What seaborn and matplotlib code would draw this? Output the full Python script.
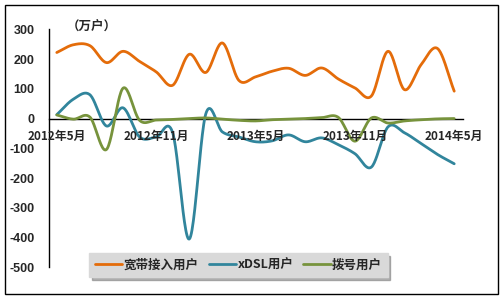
import numpy as np
import pandas as pd
import matplotlib
matplotlib.use("Agg")
import matplotlib.pyplot as plt
import seaborn as sns
from matplotlib.patches import Rectangle
from matplotlib.lines import Line2D

# ---- data (万户, monthly 2012-05 .. 2014-05) ----
months = ["2012-05", "2012-06", "2012-07", "2012-08", "2012-09", "2012-10", "2012-11",
          "2012-12", "2013-01", "2013-02", "2013-03", "2013-04", "2013-05", "2013-06",
          "2013-07", "2013-08", "2013-09", "2013-10", "2013-11", "2013-12", "2014-01",
          "2014-02", "2014-03", "2014-04", "2014-05"]
broadband = [222, 248, 245, 188, 226, 192, 157, 112, 216, 155, 254, 128, 140,
             159, 169, 145, 170, 133, 103, 76, 226, 97, 181, 235, 92]
xdsl = [13, 65, 80, -25, 36, -62, -62, -48, -405, 16, -45, -62, -78,
        -75, -55, -78, -65, -88, -118, -163, -28, -48, -84, -121, -152]
dialup = [12, -2, 5, -104, 102, -6, -5, -3, 0, 2, -2, -6, -8,
          -4, -2, 0, 3, 4, -76, 2, -15, -8, -4, -1, 0]
series_names = ["宽带接入用户", "xDSL用户", "拨号用户"]
colors = ["#E46C0A", "#31859C", "#77933C"]
tick_idx = [0, 6, 12, 18, 24]
tick_labels = ["2012年5月", "2012年11月", "2013年5月", "2013年11月", "2014年5月"]
yticks = [300, 200, 100, 0, -100, -200, -300, -400, -500]


def smooth(vals, n=24):
    """Catmull-Rom style smoothing (like Excel's smoothed line)."""
    y = np.asarray(vals, float)
    m = np.empty_like(y)
    m[1:-1] = (y[2:] - y[:-2]) / 2.0
    m[0] = y[1] - y[0]
    m[-1] = y[-1] - y[-2]
    xs, ys = [], []
    t = np.linspace(0, 1, n, endpoint=False)
    h00 = 2 * t**3 - 3 * t**2 + 1
    h10 = t**3 - 2 * t**2 + t
    h01 = -2 * t**3 + 3 * t**2
    h11 = t**3 - t**2
    for i in range(len(y) - 1):
        xs.append(i + t)
        ys.append(h00 * y[i] + h10 * m[i] + h01 * y[i + 1] + h11 * m[i + 1])
    xs.append(np.array([len(y) - 1.0]))
    ys.append(np.array([y[-1]]))
    return np.concatenate(xs), np.concatenate(ys)


frames = []
for name, vals in zip(series_names, [broadband, xdsl, dialup]):
    sx, sy = smooth(vals)
    frames.append(pd.DataFrame({"x": sx, "y": sy, "series": name}))
df = pd.concat(frames, ignore_index=True)

sns.set_style("white")
plt.rcParams["font.family"] = ["Noto Sans CJK SC", "DejaVu Sans"]
plt.rcParams["axes.unicode_minus"] = False

W, H = 503, 302
fig = plt.figure(figsize=(W / 100, H / 100), dpi=100)
ax = fig.add_axes([48.5 / W, 1 - 267.3 / H, 414 / W, (267.3 - 29.3) / H])

sns.lineplot(data=df, x="x", y="y", hue="series", palette=dict(zip(series_names, colors)),
             hue_order=series_names, sort=False, estimator=None, linewidth=2.0,
             ax=ax, legend=False)

ax.set_xlim(-0.5, 24.5)
ax.set_ylim(-500, 300)
ax.set_xlabel("")
ax.set_ylabel("")
ax.set_axisbelow(False)

for s in ["top", "right"]:
    ax.spines[s].set_visible(False)
ax.spines["bottom"].set_position(("data", 0))
ax.spines["bottom"].set_color("black")
ax.spines["left"].set_color("black")
ax.spines["bottom"].set_linewidth(1.0)
ax.spines["left"].set_linewidth(1.0)
ax.spines["bottom"].set_zorder(1)

ax.set_xticks(tick_idx)
ax.set_xticklabels(tick_labels, fontsize=8.5, fontweight="bold")
ax.set_xticks([5.5, 11.5, 17.5, 23.5], minor=True)
ax.tick_params(axis="x", which="major", length=0, pad=8)
ax.tick_params(axis="x", which="minor", length=3.5, direction="in", color="black", width=1)

ax.set_yticks(yticks)
ax.set_yticklabels([str(v) for v in yticks], fontsize=9, fontweight="bold",
                   family=["Liberation Sans", "DejaVu Sans"])
ax.tick_params(axis="y", length=3, direction="in", color="black", width=1, pad=10)
ax.grid(False)

fig.text(67 / W, 1 - 27 / H, "（万户）", fontsize=9, fontweight="bold", ha="left", va="center")

handles = [Line2D([], [], color=c, lw=2) for c in colors]
leg = ax.legend(handles, series_names, loc="center", bbox_to_anchor=(238.5 / W, 1 - 265 / H),
                bbox_transform=fig.transFigure, ncol=3, frameon=True, fancybox=False,
                shadow={"color": "#7f7f7f", "alpha": 0.6}, facecolor="#d9d9d9", edgecolor="#d9d9d9",
                framealpha=1, prop={"size": 9, "weight": "bold"}, handlelength=2.2,
                handletextpad=0.1, columnspacing=0.8, borderpad=0.45, borderaxespad=0)
leg.set_zorder(5)

fig.patches.append(Rectangle((5 / W, 1 - 294 / H), 493 / W, 289 / H, transform=fig.transFigure,
                             fill=False, edgecolor="black", linewidth=1.0))

fig.savefig("out.png", dpi=100)
